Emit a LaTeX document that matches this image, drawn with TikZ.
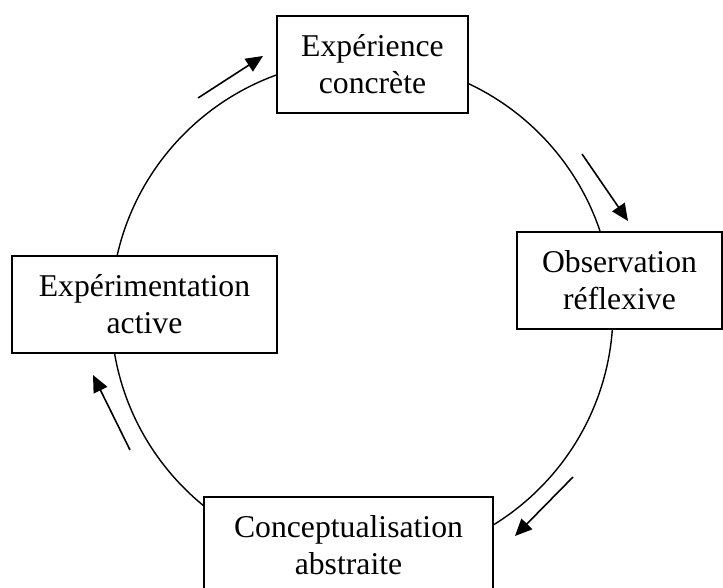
\documentclass[tikz,border=0pt]{standalone}
\usepackage{fontspec}
\setmainfont{Liberation Serif}
\usetikzlibrary{arrows.meta}
\tikzset{
  stagebox/.style={draw, line width=1.9pt, fill=white, inner sep=0pt,
    minimum height=97pt, align=center, font=\fontsize{31.7}{37}\selectfont},
  cyclearrow/.style={line width=1.6pt, -{Triangle[length=17pt,width=15pt]}},
  ring/.style={line width=1.4pt}
}
\begin{document}
\begin{tikzpicture}[x=1pt,y=-1pt]
\useasboundingbox (0,0) rectangle (723,588);
\coordinate (c) at (362,311);
\draw[ring] (c) circle [x radius=251pt, y radius=251pt];
\node[stagebox, minimum width=191pt] (ec) at (372.5,64.5) {Expérience\\concrète};
\node[stagebox, minimum width=205pt] (or) at (619.5,280.5) {Observation\\réflexive};
\node[stagebox, minimum width=265pt] (ea) at (144.5,304.5) {Expérimentation\\active};
\node[stagebox, minimum width=289pt] (ca) at (348.5,545.5) {Conceptualisation\\abstraite};
\coordinate (a1s) at (198,98);  \coordinate (a1e) at (263,56);
\coordinate (a2s) at (582,154); \coordinate (a2e) at (628,221);
\coordinate (a3s) at (130,450); \coordinate (a3e) at (93,375);
\coordinate (a4s) at (573,477); \coordinate (a4e) at (515,536);
\draw[cyclearrow] (a1s) -- (a1e);
\draw[cyclearrow] (a2s) -- (a2e);
\draw[cyclearrow] (a3s) -- (a3e);
\draw[cyclearrow] (a4s) -- (a4e);
\end{tikzpicture}
\end{document}
